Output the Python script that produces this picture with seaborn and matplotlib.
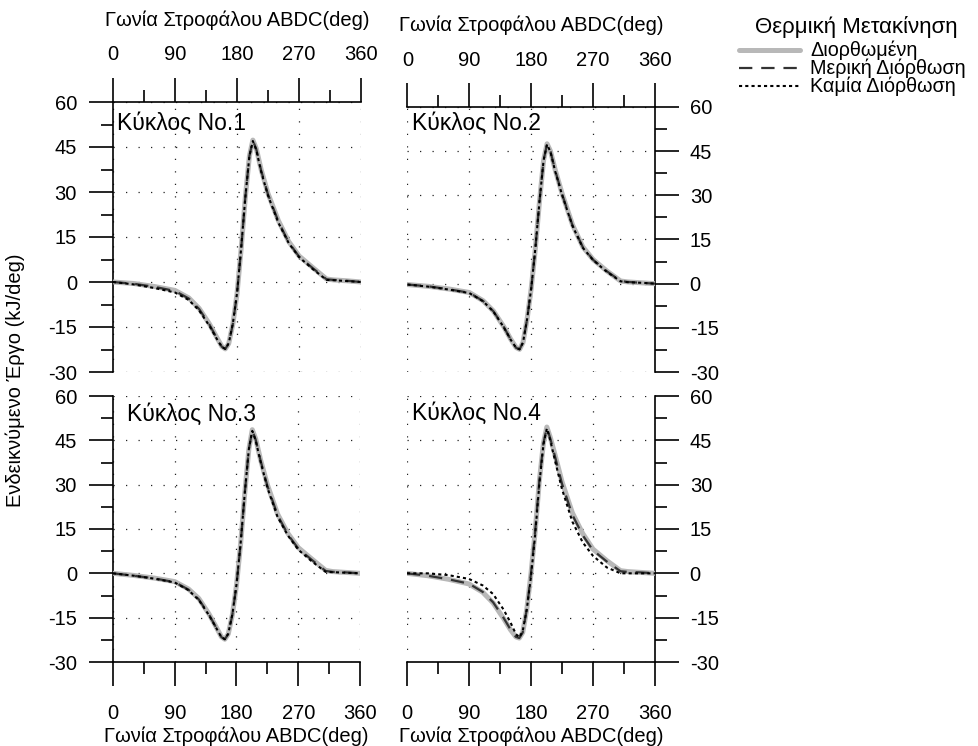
import matplotlib
matplotlib.use("Agg")
import matplotlib.pyplot as plt
import seaborn as sns
import pandas as pd
from matplotlib.ticker import MultipleLocator
from matplotlib.lines import Line2D

# ---------------- data ----------------
angle = [0, 30, 60, 90, 110, 125, 140, 150, 158, 163, 168, 174, 180, 186, 192, 198, 203,
         208, 215, 225, 240, 255, 270, 290, 310, 320, 340, 360]

c1_corr = [0, -0.5, -1.5, -2.8, -5.3, -8.8, -14.0, -18.2, -21.5, -22.3, -20.5, -14.0, -4.0, 11.0, 28.0,
           42.0, 47.3, 44.5, 37.5, 29.5, 20.5, 13.5, 8.7, 4.8, 1.0, 0.7, 0.4, 0]
c1_part = [0, -0.6, -1.6, -3.0, -5.5, -9.0, -14.2, -18.4, -21.6, -22.3, -20.5, -14.0, -4.0, 11.0, 28.0,
           42.0, 47.2, 44.3, 37.2, 29.2, 20.2, 13.2, 8.5, 4.6, 0.9, 0.7, 0.4, 0]
c1_none = [0, -0.8, -2.0, -3.5, -6.0, -9.5, -14.6, -18.7, -21.7, -22.3, -20.4, -13.8, -3.8, 11.2, 28.0,
           42.0, 47.0, 44.0, 36.8, 28.8, 19.8, 13.0, 8.3, 4.3, 0.7, 0.6, 0.3, 0]

c2_corr = [-0.3, -0.9, -1.8, -3.0, -5.8, -9.3, -14.6, -18.8, -21.7, -22.3, -20.0, -12.0, -1.5, 12.0, 28.0,
           42.0, 47.5, 45.0, 38.5, 30.5, 20.0, 12.5, 8.2, 4.3, 0.9, 0.6, 0.3, 0]
c2_part = [-0.3, -0.9, -1.9, -3.1, -5.9, -9.4, -14.7, -18.9, -21.8, -22.3, -20.0, -12.0, -1.5, 12.0, 28.0,
           42.0, 47.4, 44.9, 38.3, 30.3, 19.8, 12.4, 8.1, 4.2, 0.9, 0.6, 0.3, 0]
c2_none = [-0.3, -1.0, -2.0, -3.2, -6.0, -9.5, -14.8, -19.0, -21.8, -22.3, -20.0, -12.0, -1.5, 12.0, 28.0,
           42.0, 47.3, 44.7, 38.0, 30.0, 19.6, 12.2, 8.0, 4.0, 0.8, 0.5, 0.3, 0]

c3_corr = [0, -0.7, -1.6, -2.8, -5.3, -8.5, -13.8, -18.0, -21.5, -22.3, -20.5, -14.0, -4.0, 10.0, 27.0,
           42.0, 48.6, 45.5, 38.5, 30.0, 20.0, 13.5, 8.7, 4.8, 1.0, 0.6, 0.3, 0]
c3_part = [0, -0.8, -1.7, -3.0, -5.5, -8.8, -14.0, -18.2, -21.6, -22.3, -20.5, -14.0, -4.0, 10.0, 27.0,
           42.0, 48.4, 45.2, 38.2, 29.6, 19.6, 13.1, 8.4, 4.5, 0.8, 0.5, 0.3, 0]
c3_none = [0, -0.8, -1.8, -3.1, -5.7, -9.0, -14.2, -18.3, -21.6, -22.3, -20.4, -13.8, -3.8, 10.2, 27.0,
           42.0, 48.2, 44.9, 37.8, 29.0, 19.0, 12.8, 8.0, 4.0, 0.5, 0.4, 0.2, 0]

c4_corr = [0, -0.8, -2.0, -3.6, -6.4, -10.0, -15.2, -19.0, -21.5, -21.9, -20.0, -12.0, 0.0, 14.0, 31.0,
           44.0, 49.5, 46.0, 40.0, 31.0, 20.5, 13.5, 8.2, 4.3, 0.9, 0.6, 0.3, 0]
c4_part = [0, -0.8, -2.0, -3.5, -6.3, -9.8, -15.0, -18.9, -21.5, -21.9, -20.0, -12.0, 0.0, 14.0, 31.0,
           44.0, 49.3, 45.6, 39.4, 30.3, 19.8, 12.9, 7.8, 4.0, 0.7, 0.5, 0.3, 0]
c4_none = [0, 0.0, -0.6, -1.9, -4.1, -7.0, -12.2, -16.5, -20.5, -21.7, -19.5, -12.0, -1.0, 13.0, 30.0,
           43.5, 49.0, 45.0, 38.0, 28.5, 17.5, 10.5, 5.9, 2.0, 0.0, 0.0, 0.0, 0]

cycles = ["Κύκλος No.1", "Κύκλος No.2", "Κύκλος No.3", "Κύκλος No.4"]
series_names = ["Διορθωμένη", "Μερική Διόρθωση", "Καμία Διόρθωση"]
panel_data = [(c1_corr, c1_part, c1_none), (c2_corr, c2_part, c2_none),
              (c3_corr, c3_part, c3_none), (c4_corr, c4_part, c4_none)]
xticks = [0, 90, 180, 270, 360]
yticks = [-30, -15, 0, 15, 30, 45, 60]
xlabel = "Γωνία Στροφάλου ABDC(deg)"
ylabel = "Ενδεικνύμενο Έργο (kJ/deg)"
legend_title = "Θερμική Μετακίνηση"

# ---------------- style ----------------
sns.set_theme(style="white")
plt.rcParams['font.family'] = ['Liberation Sans', 'DejaVu Sans']
plt.rcParams['text.color'] = 'black'
plt.rcParams['axes.labelcolor'] = 'black'
plt.rcParams['xtick.color'] = 'black'
plt.rcParams['ytick.color'] = 'black'
plt.rcParams['axes.edgecolor'] = 'black'
plt.rcParams['axes.unicode_minus'] = False

styles = [dict(color='#b8b8b8', linewidth=3.6, linestyle='-'),
          dict(color='#333333', linewidth=1.6, linestyle=(0, (6, 4))),
          dict(color='black', linewidth=1.5, linestyle=(0, (1.5, 1.5)))]

W, H = 979, 746
fig = plt.figure(figsize=(W / 100, H / 100), dpi=100)

boxes = [(113, 102, 361, 372), (407.5, 107, 655, 372), (113, 396, 360, 662), (407, 396, 655, 662)]
label_xy = [(117, 123), (412, 123), (127, 414), (412, 413)]
FS = 14.5

for i, (l, t, r, b) in enumerate(boxes):
    ax = fig.add_axes([l / W, 1 - b / H, (r - l) / W, (b - t) / H])
    ax.set_axisbelow(True)
    for j, vals in enumerate(panel_data[i]):
        df = pd.DataFrame({"angle": angle, "work": vals})
        sns.lineplot(data=df, x="angle", y="work", ax=ax, sort=False, zorder=3 + j, **styles[j])
    ax.set_xlim(0, 360)
    ax.set_ylim(-30, 60)
    ax.set_xticks(xticks)
    ax.set_yticks(yticks)
    ax.xaxis.set_minor_locator(MultipleLocator(45))
    ax.yaxis.set_minor_locator(MultipleLocator(7.5))
    ax.grid(True, which='major', color='#222222', linestyle=(0, (1, 9)), linewidth=0.9)
    ax.tick_params(which='major', length=17, width=1.2, direction='out', labelsize=FS)
    ax.tick_params(which='minor', length=8.5, width=1.2, direction='out')
    top = i < 2
    left = i % 2 == 0
    for s in ax.spines.values():
        s.set_linewidth(1.2)
        s.set_color('black')
    ax.spines['top'].set_visible(top)
    ax.spines['bottom'].set_visible(not top)
    ax.spines['left'].set_visible(left)
    ax.spines['right'].set_visible(not left)
    if top:
        ax.xaxis.tick_top()
        ax.xaxis.set_label_position('top')
        ax.tick_params(axis='x', which='both', top=True, bottom=False, labeltop=True, labelbottom=False)
        ax.tick_params(axis='x', which='major', pad=10)
        ax.set_xlabel(xlabel, fontsize=FS, labelpad=14)
    else:
        ax.tick_params(axis='x', which='both', top=False, bottom=True)
        ax.tick_params(axis='x', which='major', pad=13)
        ax.set_xlabel(xlabel, fontsize=FS, labelpad=3)
    if left:
        ax.tick_params(axis='y', which='both', left=True, right=False, labelleft=True, labelright=False)
        ax.tick_params(axis='y', which='major', pad=9)
    else:
        ax.yaxis.tick_right()
        ax.tick_params(axis='y', which='both', left=False, right=True, labelleft=False, labelright=True)
        ax.tick_params(axis='y', which='major', pad=8)
    ax.set_ylabel("")
    lx, ly = label_xy[i]
    ax.text((lx - l) / (r - l), (b - ly) / (b - t), cycles[i], transform=ax.transAxes,
            fontsize=16.5, ha='left', va='center', zorder=10)

fig.text(15 / W, 1 - 380 / H, ylabel, rotation=90, ha='center', va='center', fontsize=FS)

# legend drawn in figure pixel coordinates
fig.text(856 / W, 1 - 27 / H, legend_title, ha='center', va='center', fontsize=16)
rows = [50, 68, 86]
for k in range(3):
    fig.add_artist(Line2D([739 / W, 800 / W], [1 - rows[k] / H] * 2, transform=fig.transFigure, **styles[k]))
    fig.text(810 / W, 1 - rows[k] / H, series_names[k], ha='left', va='center', fontsize=14.2)

fig.savefig("out.png", dpi=100)
